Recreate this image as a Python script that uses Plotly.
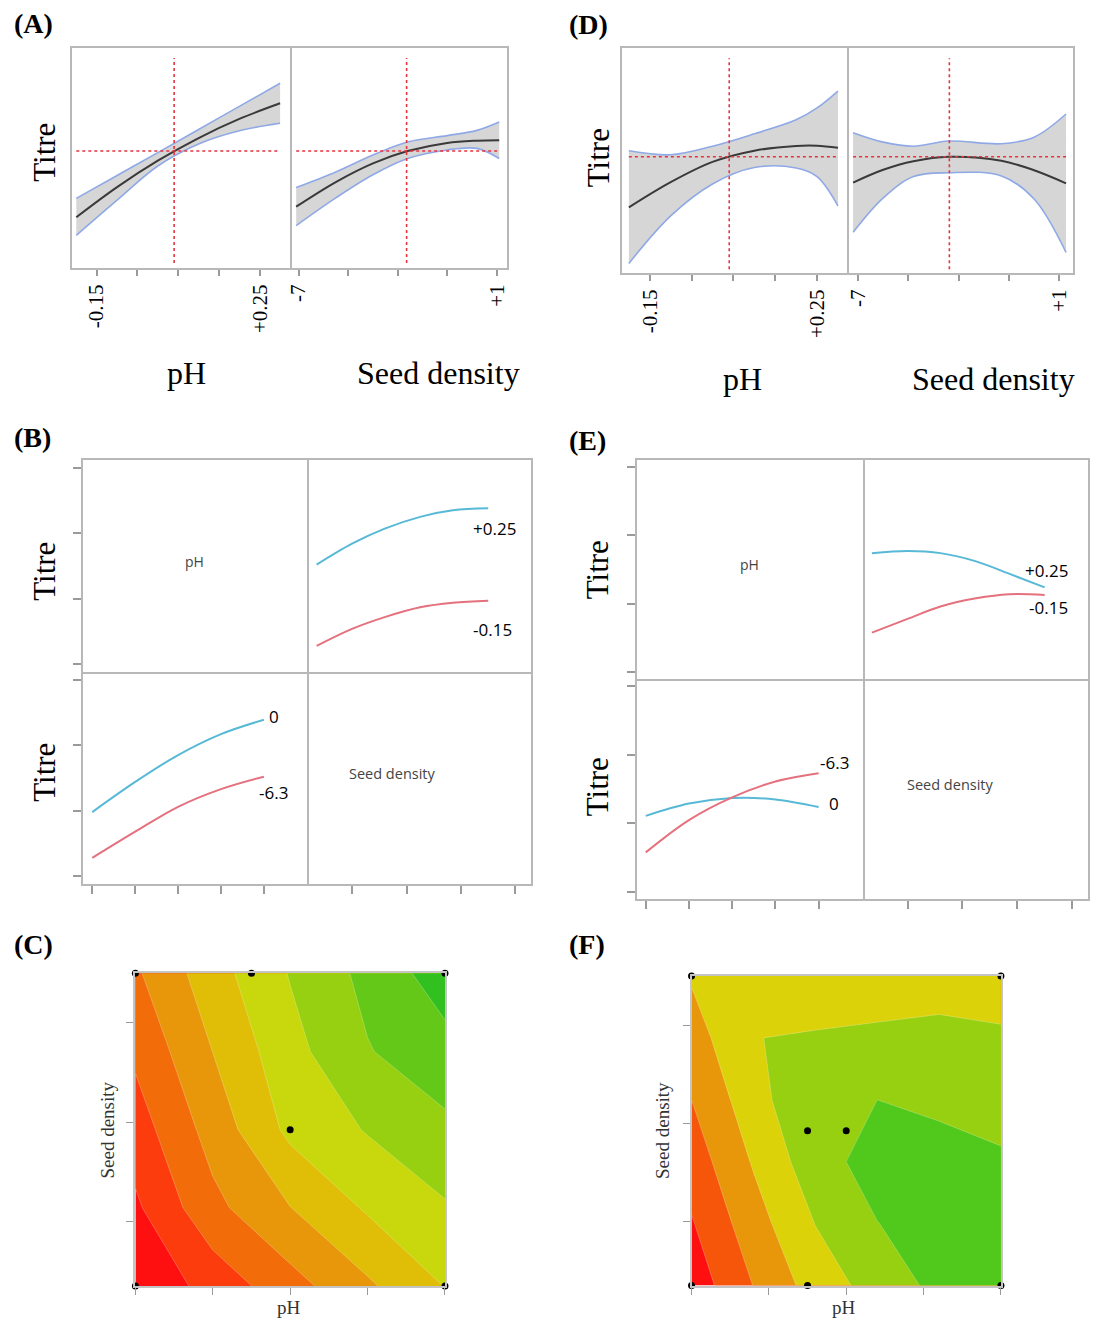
import plotly.graph_objects as go

W, H = 1095, 1319
SERIF = "Liberation Serif"
SANS = "Open Sans"
BOX = "#b8b8b8"
TICK = "#9a9a9a"
RED_X = "#e8323c"
BAND_FILL = "#d6d6d6"
BAND_EDGE = "#8fa9e6"
PRED = "#3a3a3a"
BLUE = "#58b9d6"
PINK = "#e4717d"

# ---------------- data ----------------
# Panel A : prediction profiler
A_ph = [-0.2, -0.1, 0.0, 0.1, 0.2, 0.3]
A_ph_pred = [2.32, 3.69, 4.89, 5.92, 6.79, 7.50]
A_ph_upper = [3.18, 4.22, 5.26, 6.31, 7.36, 8.41]
A_ph_lower = [1.50, 3.10, 4.65, 5.65, 6.25, 6.59]
A_seed = [-7.1, -5.5, -4.0, -2.6, -1.0, 0.2, 1.1]
A_seed_pred = [2.80, 3.92, 4.77, 5.33, 5.70, 5.80, 5.82]
A_seed_upper = [3.67, 4.38, 5.15, 5.74, 6.03, 6.27, 6.65]
A_seed_lower = [1.94, 3.20, 4.25, 4.99, 5.38, 5.45, 4.99]
A_set_ph, A_set_seed, A_titre = 0.04, -2.64, 5.33

# Panel D : prediction profiler
D_ph = [-0.2, -0.1, 0.0, 0.1, 0.2, 0.25, 0.3]
D_ph_pred = [2.93, 4.05, 4.95, 5.45, 5.66, 5.67, 5.58]
D_ph_upper = [5.45, 5.27, 5.65, 6.20, 6.82, 7.35, 8.10]
D_ph_lower = [0.44, 2.55, 3.97, 4.70, 4.68, 4.30, 3.00]
D_seed = [-7.2, -6.0, -4.8, -3.4, -1.3, 0.0, 1.27]
D_seed_pred = [4.03, 4.60, 4.98, 5.18, 5.00, 4.58, 4.00]
D_seed_upper = [6.25, 5.83, 5.65, 5.88, 5.76, 6.05, 7.08]
D_seed_lower = [1.82, 3.35, 4.30, 4.47, 4.33, 3.30, 0.93]
D_set_ph, D_set_seed, D_titre = 0.04, -3.37, 5.18

prof_ph_ticks = [-0.15, -0.05, 0.05, 0.15, 0.25]
prof_ph_text = ["-0.15", "", "", "", "+0.25"]
prof_seed_ticks = [-7, -5, -3, -1, 1]
prof_seed_text = ["-7", "", "", "", "+1"]

# Panel B : interaction profiles
B_seed = [-6.3, -5.0, -3.8, -2.5, -1.3, 0.0]
B_seed_ph_hi = [2.52, 2.84, 3.07, 3.25, 3.35, 3.38]   # pH +0.25
B_seed_ph_lo = [1.28, 1.54, 1.72, 1.87, 1.94, 1.97]   # pH -0.15
B_ph = [-0.15, -0.05, 0.05, 0.15, 0.25]
B_ph_seed_hi = [1.98, 2.44, 2.85, 3.17, 3.39]         # seed 0
B_ph_seed_lo = [1.28, 1.68, 2.06, 2.33, 2.52]         # seed -6.3

# Panel E : interaction profiles
E_seed = [-6.3, -5.0, -3.8, -2.5, -1.3, 0.0]
E_seed_ph_hi = [2.74, 2.77, 2.74, 2.62, 2.44, 2.24]
E_seed_ph_lo = [1.58, 1.78, 1.96, 2.08, 2.14, 2.13]
E_ph = [-0.15, -0.05, 0.05, 0.15, 0.25]
E_ph_seed_hi = [2.11, 2.29, 2.37, 2.35, 2.24]
E_ph_seed_lo = [1.58, 2.05, 2.38, 2.61, 2.73]

inter_ph_ticks = [-0.15, -0.05, 0.05, 0.15, 0.25]
inter_seed_ticks = [-5, -3, -1, 1]
inter_y_ticks = [1, 2, 3, 4]

# Panel C : contour (rows = seed density, cols = pH)
C_ph = [-0.15, -0.05, 0.05, 0.15, 0.25]
C_seed = [-6.3, -4.725, -3.15, -1.575, 0.0]
C_z = [
    [0.15, 1.38, 2.61, 3.84, 5.03],
    [0.83, 2.73, 3.98, 5.12, 5.90],
    [1.51, 3.40, 5.24, 6.07, 6.77],
    [2.19, 4.01, 5.67, 6.94, 7.64],
    [2.85, 4.58, 6.06, 7.28, 8.53],
]
C_colors = ["#ff1010", "#fc3c0c", "#f26c0a", "#e8960a", "#e0be08",
            "#c8d80c", "#96d010", "#64c818", "#32c020"]
C_pts_ph = [-0.15, 0.0, 0.25, 0.05, -0.15, 0.25]
C_pts_seed = [0.0, 0.0, 0.0, -3.15, -6.3, -6.3]

# Panel F : contour
F_ph = [-0.15, -0.07, 0.01, 0.09, 0.17, 0.25]
F_seed = [-6.3, -5.04, -3.78, -2.52, -1.26, 0.0]
F_z = [
    [0.40, 2.02, 3.44, 4.41, 5.27, 5.55],
    [0.92, 2.57, 4.02, 4.98, 5.50, 5.50],
    [1.46, 3.09, 4.60, 5.40, 5.38, 5.13],
    [2.00, 3.59, 4.96, 5.00, 4.80, 4.62],
    [2.55, 3.98, 4.10, 4.21, 4.22, 4.11],
    [3.10, 3.35, 3.30, 3.38, 3.64, 3.61],
]
F_colors = ["#ff1010", "#f5560a", "#e8960a", "#dcd20a", "#96d010", "#50c81c"]
F_pts_ph = [-0.15, 0.25, 0.0, 0.05, -0.15, 0.0, 0.25]
F_pts_seed = [0.0, 0.0, -3.15, -3.15, -6.3, -6.3, -6.3]

contour_x_ticks = [-0.15, -0.05, 0.05, 0.15, 0.25]
contour_y_ticks = [-5, -3, -1]


# ---------------- helpers ----------------
def xd(a, b):
    return [a / W, b / W]


def yd(top, bottom):
    return [1 - bottom / H, 1 - top / H]


def px(x):
    return x / W


def py(y):
    return 1 - y / H


def xn(n):
    return "x" if n == 1 else "x%d" % n


def yn(n):
    return "y" if n == 1 else "y%d" % n


def xkey(n):
    return "xaxis" if n == 1 else "xaxis%d" % n


def ykey(n):
    return "yaxis" if n == 1 else "yaxis%d" % n


fig = go.Figure()
layout_axes = {}
shapes = []
annotations = []


def base_axis(dom, rng, anchor, mirror=True, side=None):
    d = dict(domain=dom, range=rng, anchor=anchor, showline=True, mirror=mirror,
             linecolor=BOX, linewidth=1.5, showgrid=False, zeroline=False,
             fixedrange=True, showticklabels=False, ticks="")
    if side:
        d["side"] = side
    return d


def prof_x(dom, rng, anchor, tv, tt):
    d = base_axis(dom, rng, anchor)
    d.update(ticks="outside", ticklen=6, tickwidth=1.5, tickcolor=TICK,
             tickvals=tv, ticktext=tt, showticklabels=True, tickangle=-90,
             tickfont=dict(family=SERIF, size=21, color="black"))
    return d


def add_profile(n, xs, pred, lo, up, setting, titre, ydom_frac):
    xa, ya = xn(n), yn(n)
    fig.add_trace(go.Scatter(x=xs, y=lo, xaxis=xa, yaxis=ya, mode="lines",
                             line=dict(color=BAND_EDGE, width=1.6, shape="spline"),
                             hoverinfo="skip"))
    fig.add_trace(go.Scatter(x=xs, y=up, xaxis=xa, yaxis=ya, mode="lines",
                             line=dict(color=BAND_EDGE, width=1.6, shape="spline"),
                             fill="tonexty", fillcolor=BAND_FILL, hoverinfo="skip"))
    fig.add_trace(go.Scatter(x=xs, y=pred, xaxis=xa, yaxis=ya, mode="lines",
                             line=dict(color=PRED, width=2, shape="spline"),
                             hoverinfo="skip"))
    shapes.append(dict(type="line", xref=xa, yref=ya + " domain", x0=setting, x1=setting,
                       y0=ydom_frac[0], y1=ydom_frac[1],
                       line=dict(color=RED_X, width=1.6, dash="dot")))
    shapes.append(dict(type="line", xref=xa, yref=ya, x0=min(xs), x1=max(xs),
                       y0=titre, y1=titre, line=dict(color=RED_X, width=1.6, dash="dot")))


# ---- Panel A
yA = yd(48.3, 268.3)
layout_axes[xkey(1)] = prof_x(xd(69.3, 288), [-0.2106, 0.3235], yn(1), prof_ph_ticks, prof_ph_text)
layout_axes[ykey(1)] = base_axis(yA, [0, 10], xn(1))
layout_axes[xkey(2)] = prof_x(xd(288, 506), [-7.362, 1.402], yn(2), prof_seed_ticks, prof_seed_text)
layout_axes[ykey(2)] = base_axis(yA, [0, 10], xn(2), mirror=False, side="right")
add_profile(1, A_ph, A_ph_pred, A_ph_lower, A_ph_upper, A_set_ph, A_titre, (0.024, 0.956))
add_profile(2, A_seed, A_seed_pred, A_seed_lower, A_seed_upper, A_set_seed, A_titre, (0.024, 0.956))

# ---- Panel D
yD = yd(48.3, 273.3)
layout_axes[xkey(3)] = prof_x(xd(621.6, 847.4), [-0.217, 0.3205], yn(3), prof_ph_ticks, prof_ph_text)
layout_axes[ykey(3)] = base_axis(yD, [0, 10], xn(3))
layout_axes[xkey(4)] = prof_x(xd(847.4, 1075), [-7.46, 1.55], yn(4), prof_seed_ticks, prof_seed_text)
layout_axes[ykey(4)] = base_axis(yD, [0, 10], xn(4), mirror=False, side="right")
add_profile(3, D_ph, D_ph_pred, D_ph_lower, D_ph_upper, D_set_ph, D_titre, (0.018, 0.956))
add_profile(4, D_seed, D_seed_pred, D_seed_lower, D_seed_upper, D_set_seed, D_titre, (0.018, 0.956))


# ---- Panels B and E (interaction profiles)
def inter_panel(n0, xs3, ys3, ph_rng, seed_rng, y_rng, seed, s_hi, s_lo, ph, p_hi, p_lo):
    xl, xm, xr = xs3
    yt, ym, yb = ys3
    doms = {
        n0: (xd(xl, xm), yd(yt, ym), ph_rng),
        n0 + 1: (xd(xm, xr), yd(yt, ym), seed_rng),
        n0 + 2: (xd(xl, xm), yd(ym, yb), ph_rng),
        n0 + 3: (xd(xm, xr), yd(ym, yb), seed_rng),
    }
    for n, (dx, dy, rx) in doms.items():
        top_row = n in (n0, n0 + 1)
        left_col = n in (n0, n0 + 2)
        xa = base_axis(dx, rx, yn(n), mirror=top_row)
        ya = base_axis(dy, y_rng, xn(n), mirror=left_col,
                       side=None if left_col else "right")
        if not top_row:
            xa.update(ticks="outside", ticklen=8, tickwidth=1.5, tickcolor=TICK,
                      tickvals=inter_ph_ticks if left_col else inter_seed_ticks)
        if left_col:
            ya.update(ticks="outside", ticklen=8, tickwidth=1.5, tickcolor=TICK,
                      tickvals=inter_y_ticks)
        layout_axes[xkey(n)] = xa
        layout_axes[ykey(n)] = ya
        # invisible anchor trace so every quadrant is drawn
        fig.add_trace(go.Scatter(x=[rx[0]], y=[y_rng[0]], xaxis=xn(n), yaxis=yn(n),
                                 mode="markers", marker=dict(opacity=0), hoverinfo="skip"))
    n = n0 + 1
    fig.add_trace(go.Scatter(x=seed, y=s_hi, xaxis=xn(n), yaxis=yn(n), mode="lines",
                             line=dict(color=BLUE, width=2, shape="spline"), hoverinfo="skip"))
    fig.add_trace(go.Scatter(x=seed, y=s_lo, xaxis=xn(n), yaxis=yn(n), mode="lines",
                             line=dict(color=PINK, width=2, shape="spline"), hoverinfo="skip"))
    n = n0 + 2
    fig.add_trace(go.Scatter(x=ph, y=p_hi, xaxis=xn(n), yaxis=yn(n), mode="lines",
                             line=dict(color=BLUE, width=2, shape="spline"), hoverinfo="skip"))
    fig.add_trace(go.Scatter(x=ph, y=p_lo, xaxis=xn(n), yaxis=yn(n), mode="lines",
                             line=dict(color=PINK, width=2, shape="spline"), hoverinfo="skip"))


inter_panel(5, (80, 305.5, 530), (460, 672, 884), [-0.1725, 0.3507], [-6.65, 1.555],
            [0.882, 4.118], B_seed, B_seed_ph_hi, B_seed_ph_lo, B_ph, B_ph_seed_hi, B_ph_seed_lo)
inter_panel(9, (637, 863.5, 1090), (460, 679, 899), [-0.170, 0.3516], [-6.641, 1.582],
            [0.902, 4.10], E_seed, E_seed_ph_hi, E_seed_ph_lo, E_ph, E_ph_seed_hi, E_ph_seed_lo)


# ---- Panels C and F (contours)
def contour_panel(n, dx, dy, xs, ys, z, colors, pts_x, pts_y):
    nc = len(colors) - 1
    cs = [[i / nc, c] for i, c in enumerate(colors)]
    xa = base_axis(dx, [-0.15, 0.25], yn(n))
    ya = base_axis(dy, [-6.3, 0.0], xn(n))
    xa.update(linecolor="#c4c4c4", linewidth=2, ticks="outside", ticklen=7, tickwidth=1.2,
              tickcolor=TICK, tickvals=contour_x_ticks)
    ya.update(linecolor="#c4c4c4", linewidth=2, ticks="outside", ticklen=7, tickwidth=1.2,
              tickcolor=TICK, tickvals=contour_y_ticks)
    layout_axes[xkey(n)] = xa
    layout_axes[ykey(n)] = ya
    fig.add_trace(go.Contour(x=xs, y=ys, z=z, xaxis=xn(n), yaxis=yn(n),
                             autocontour=False,
                             contours=dict(start=1, end=nc, size=1, coloring="fill",
                                           showlines=True),
                             line=dict(smoothing=0, width=0.7, color="rgba(255,255,255,0.35)"),
                             colorscale=cs, showscale=False, hoverinfo="skip"))
    fig.add_trace(go.Scatter(x=pts_x, y=pts_y, xaxis=xn(n), yaxis=yn(n),
                             mode="markers", marker=dict(color="black", size=7),
                             cliponaxis=False, hoverinfo="skip"))


contour_panel(13, xd(133, 444), yd(973.3, 1286), C_ph, C_seed, C_z, C_colors, C_pts_ph, C_pts_seed)
contour_panel(14, xd(691.7, 1002.5), yd(976, 1285.5), F_ph, F_seed, F_z, F_colors, F_pts_ph, F_pts_seed)


# ---------------- text ----------------
def ann(text, x, y, size, family=SERIF, color="black", angle=0, xanchor="center", yanchor="middle"):
    annotations.append(dict(text=text, x=px(x), y=py(y), xref="paper", yref="paper",
                            showarrow=False, font=dict(family=family, size=size, color=color),
                            textangle=angle, xanchor=xanchor, yanchor=yanchor))


for lab, x, y in [("(A)", 9, 24), ("(D)", 567, 25), ("(B)", 9, 438), ("(E)", 567, 440),
                  ("(C)", 9, 944), ("(F)", 567, 944)]:
    ann("<b>%s</b>" % lab, x, y, 28, xanchor="left")

# profiler titles
ann("Titre", 41, 152, 31, angle=-90)
ann("pH", 184, 373, 32)
ann("Seed density", 437, 373, 32)
ann("Titre", 599, 158, 31, angle=-90)
ann("pH", 743, 379, 32)
ann("Seed density", 995, 379, 32)

# interaction titles
ann("Titre", 41, 571, 31, angle=-90)
ann("Titre", 41, 772, 31, angle=-90)
ann("Titre", 597, 570, 31, angle=-90)
ann("Titre", 597, 787, 31, angle=-90)
ann("pH", 192, 562, 14, family=SANS, color="#444444")
ann("Seed density", 391, 773, 14.5, family=SANS, color="#444444")
ann("pH", 750, 565, 14, family=SANS, color="#444444")
ann("Seed density", 952, 784, 14.5, family=SANS, color="#444444")
ann("+0.25", 494, 528, 17, family=SANS)
ann("-0.15", 492, 629, 17, family=SANS)
ann("0", 272, 716, 17, family=SANS)
ann("-6.3", 272, 792, 17, family=SANS)
ann("+0.25", 1048, 570, 17, family=SANS)
ann("-0.15", 1050, 608, 17, family=SANS)
ann("-6.3", 835, 762, 17, family=SANS)
ann("0", 835, 803, 17, family=SANS)

# contour titles
ann("Seed density", 104, 1130, 19, color="#333333", angle=-90)
ann("pH", 287, 1307, 19, color="#333333")
ann("Seed density", 662, 1130, 19, color="#333333", angle=-90)
ann("pH", 845, 1307, 19, color="#333333")

fig.update_layout(
    width=W, height=H, margin=dict(l=0, r=0, t=0, b=0, pad=0),
    paper_bgcolor="white", plot_bgcolor="white", showlegend=False,
    font=dict(family=SERIF, color="black"),
    shapes=shapes, annotations=annotations,
    **layout_axes,
)

fig.write_html("out.html")
